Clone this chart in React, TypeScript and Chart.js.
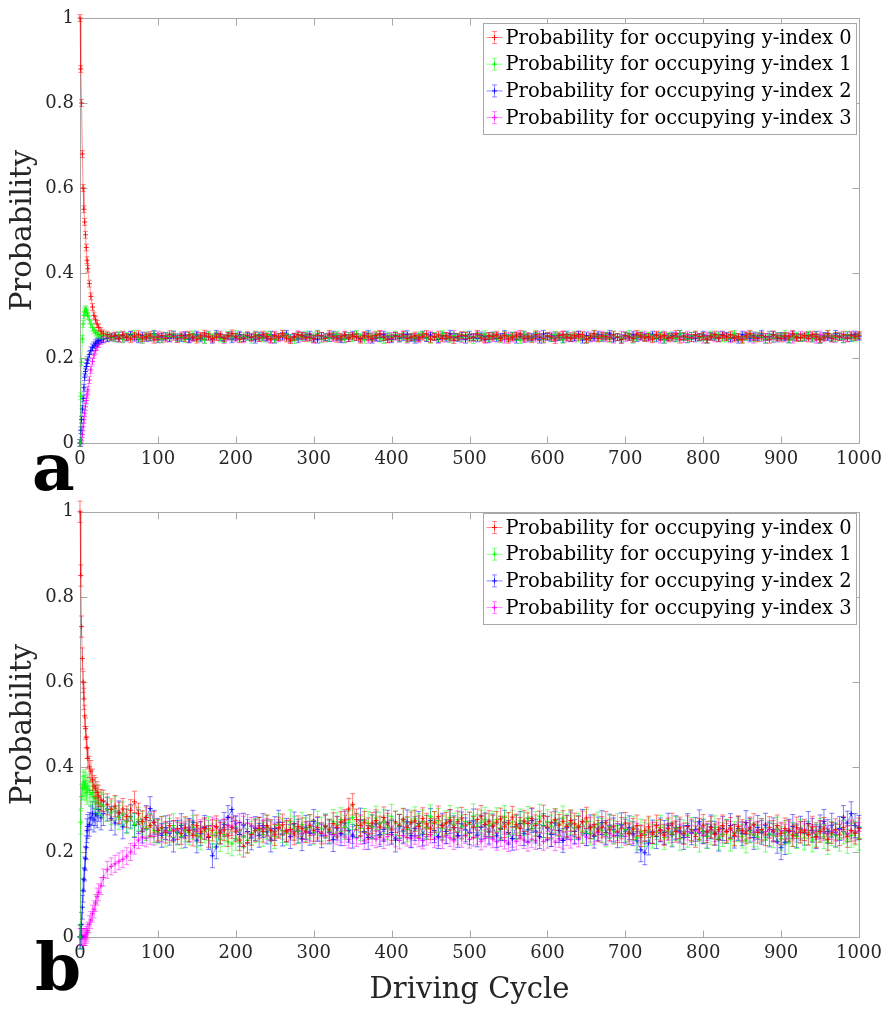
import { useEffect, useRef } from 'react';
import Chart from 'chart.js/auto';

// driving cycles sampled (dense at the start, then every 5 cycles)
const earlyCycles = [0, 1, 2, 3, 4, 5, 6, 7, 8, 9, 10, 12, 14, 16, 18, 20, 22, 24, 27];
const mainCycles = [
  30, 35, 40, 45, 50, 55, 60, 65, 70, 75, 80, 85, 90, 95, 100, 105, 110, 115, 120, 125,
  130, 135, 140, 145, 150, 155, 160, 165, 170, 175, 180, 185, 190, 195, 200, 205, 210, 215, 220, 225,
  230, 235, 240, 245, 250, 255, 260, 265, 270, 275, 280, 285, 290, 295, 300, 305, 310, 315, 320, 325,
  330, 335, 340, 345, 350, 355, 360, 365, 370, 375, 380, 385, 390, 395, 400, 405, 410, 415, 420, 425,
  430, 435, 440, 445, 450, 455, 460, 465, 470, 475, 480, 485, 490, 495, 500, 505, 510, 515, 520, 525,
  530, 535, 540, 545, 550, 555, 560, 565, 570, 575, 580, 585, 590, 595, 600, 605, 610, 615, 620, 625,
  630, 635, 640, 645, 650, 655, 660, 665, 670, 675, 680, 685, 690, 695, 700, 705, 710, 715, 720, 725,
  730, 735, 740, 745, 750, 755, 760, 765, 770, 775, 780, 785, 790, 795, 800, 805, 810, 815, 820, 825,
  830, 835, 840, 845, 850, 855, 860, 865, 870, 875, 880, 885, 890, 895, 900, 905, 910, 915, 920, 925,
  930, 935, 940, 945, 950, 955, 960, 965, 970, 975, 980, 985, 990, 995, 1000,
];

const seriesLabels = [
  'Probability for occupying y-index 0',
  'Probability for occupying y-index 1',
  'Probability for occupying y-index 2',
  'Probability for occupying y-index 3',
];
const seriesRgb = ['255,0,0', '0,255,0', '0,0,255', '255,0,255'];

// probabilities in thousandths
// ---- panel a ----
const a0Early = [1000, 880, 800, 680, 600, 550, 520, 490, 460, 430, 410, 375, 345, 320, 300, 290, 280, 272, 263];
const a1Early = [0, 110, 190, 245, 280, 300, 310, 315, 312, 306, 300, 290, 280, 271, 265, 260, 257, 255, 253];
const a2Early = [0, 30, 55, 80, 105, 130, 155, 168, 180, 188, 195, 208, 218, 225, 230, 235, 238, 241, 244];
const a3Early = [0, 0, 5, 20, 38, 55, 70, 85, 100, 113, 125, 148, 172, 192, 207, 218, 226, 233, 240];

const a0Main = [
  258, 255, 251, 253, 246, 255, 249, 244, 252, 256, 247, 250, 254, 243, 249, 253, 246, 256, 250, 245,
  253, 247, 255, 249, 243, 252, 257, 250, 245, 249, 255, 247, 252, 258, 250, 244, 247, 254, 249, 252,
  247, 255, 250, 244, 253, 249, 257, 246, 242, 250, 255, 252, 247, 249, 245, 254, 252, 246, 257, 250,
  245, 250, 255, 247, 252, 249, 243, 254, 250, 246, 253, 257, 249, 244, 247, 252, 250, 255, 246, 249,
  253, 247, 250, 257, 244, 250, 255, 246, 252, 249, 242, 250, 254, 252, 246, 249, 257, 247, 244, 252,
  250, 255, 246, 253, 243, 249, 252, 257, 246, 250, 244, 255, 249, 246, 252, 250, 242, 253, 255, 249,
  247, 253, 250, 255, 244, 249, 257, 246, 252, 250, 247, 255, 249, 243, 253, 249, 246, 257, 252, 247,
  250, 244, 255, 249, 253, 246, 250, 257, 243, 252, 249, 247, 255, 250, 252, 244, 249, 255, 246, 253,
  249, 255, 246, 250, 243, 252, 257, 249, 246, 253, 250, 243, 255, 249, 246, 252, 250, 257, 247, 249,
  253, 246, 255, 250, 244, 249, 257, 246, 252, 249, 255, 247, 253, 250, 254,
];
const a1Main = [
  253, 252, 249, 246, 255, 244, 252, 249, 257, 247, 243, 253, 249, 255, 246, 244, 252, 250, 256, 247,
  249, 244, 252, 256, 247, 250, 242, 255, 249, 253, 246, 244, 255, 250, 257, 247, 252, 249, 243, 255,
  250, 246, 255, 253, 244, 249, 257, 250, 247, 242, 252, 249, 255, 246, 253, 257, 244, 250, 247, 252,
  255, 249, 244, 252, 247, 257, 250, 243, 253, 249, 255, 246, 242, 253, 249, 255, 247, 252, 244, 250,
  247, 253, 255, 249, 243, 252, 246, 257, 250, 244, 253, 249, 247, 255, 250, 242, 252, 249, 256, 247,
  252, 250, 244, 255, 247, 253, 249, 242, 255, 250, 246, 257, 249, 244, 252, 247, 255, 250, 243, 253,
  249, 255, 246, 252, 243, 250, 257, 247, 249, 253, 244, 255, 250, 246, 252, 257, 243, 249, 255, 247,
  253, 247, 250, 255, 243, 252, 249, 246, 257, 250, 244, 252, 255, 247, 249, 243, 255, 250, 253, 246,
  246, 252, 257, 249, 243, 250, 255, 247, 253, 249, 244, 255, 246, 252, 250, 257, 243, 249, 253, 247,
  249, 255, 246, 253, 243, 250, 257, 249, 247, 252, 244, 255, 249, 246, 253,
];
const a2Main = [
  245, 247, 249, 251, 246, 253, 248, 255, 250, 244, 253, 247, 249, 257, 244, 250, 252, 246, 255, 249,
  247, 253, 244, 249, 255, 246, 252, 250, 243, 257, 249, 246, 253, 244, 250, 255, 247, 252, 249, 243,
  253, 249, 246, 255, 243, 250, 252, 257, 247, 249, 244, 253, 250, 255, 246, 243, 252, 249, 247, 255,
  249, 244, 253, 247, 255, 250, 246, 252, 257, 243, 249, 247, 255, 250, 244, 253, 246, 249, 256, 247,
  243, 249, 255, 247, 252, 250, 244, 253, 246, 257, 249, 247, 252, 243, 255, 249, 246, 253, 250, 244,
  253, 246, 249, 257, 247, 252, 243, 250, 255, 246, 249, 252, 243, 257, 250, 247, 253, 249, 244, 255,
  247, 249, 255, 243, 253, 246, 250, 255, 247, 252, 257, 246, 249, 243, 253, 250, 255, 247, 252, 249,
  250, 255, 246, 252, 243, 249, 253, 247, 257, 250, 244, 252, 246, 249, 255, 243, 252, 250, 247, 255,
  252, 247, 249, 243, 255, 250, 246, 253, 249, 257, 243, 250, 255, 246, 252, 249, 244, 255, 250, 247,
  249, 253, 246, 255, 243, 252, 249, 246, 257, 250, 244, 253, 247, 255, 250,
];
const a3Main = [
  243, 246, 248, 247, 252, 245, 250, 254, 247, 249, 243, 252, 247, 250, 255, 244, 249, 247, 253, 245,
  250, 254, 244, 247, 252, 249, 243, 255, 247, 252, 250, 242, 249, 254, 246, 252, 244, 250, 247, 255,
  247, 252, 250, 243, 255, 246, 249, 253, 244, 250, 255, 247, 252, 249, 243, 257, 246, 249, 253, 247,
  253, 247, 244, 252, 250, 255, 246, 249, 243, 253, 247, 255, 249, 244, 252, 250, 246, 255, 243, 249,
  250, 244, 253, 247, 255, 249, 243, 250, 252, 246, 257, 249, 244, 253, 250, 247, 255, 249, 243, 252,
  247, 252, 249, 243, 253, 246, 255, 250, 244, 252, 249, 246, 255, 243, 250, 253, 247, 249, 255, 246,
  252, 246, 255, 249, 243, 253, 247, 250, 255, 246, 252, 243, 249, 255, 247, 250, 244, 253, 249, 255,
  246, 250, 253, 243, 255, 249, 246, 252, 250, 244, 255, 247, 252, 249, 243, 253, 250, 246, 255, 249,
  250, 244, 253, 249, 246, 255, 250, 243, 252, 247, 249, 255, 244, 252, 250, 246, 253, 243, 249, 255,
  247, 252, 250, 243, 255, 246, 252, 249, 244, 253, 249, 246, 255, 250, 252,
];
const errA = [0.008, 0.008, 0.008, 0.008];

// ---- panel b ----
const b0Early = [1000, 850, 730, 655, 600, 560, 520, 490, 470, 445, 420, 400, 390, 370, 355, 350, 340, 332, 322];
const b1Early = [0, 270, 330, 350, 360, 365, 352, 360, 348, 340, 355, 345, 335, 340, 328, 320, 330, 315, 312];
const b2Early = [0, 0, 30, 70, 110, 135, 160, 185, 210, 250, 260, 265, 280, 290, 275, 290, 285, 300, 280];
const b3Early = [0, 0, 0, 0, 0, 0, 0, 0, 5, 10, 15, 30, 40, 55, 65, 80, 95, 105, 120];

const b0Main = [
  320, 312, 300, 308, 292, 301, 283, 298, 318, 290, 272, 281, 262, 270, 251, 258, 246, 262, 249, 255,
  243, 258, 250, 239, 262, 247, 255, 236, 251, 260, 244, 252, 238, 257, 249, 228, 213, 222, 241, 250,
  256, 248, 262, 251, 240, 257, 264, 249, 253, 242, 260, 255, 247, 263, 250, 258, 244, 261, 252, 267,
  258, 270, 275, 301, 312, 276, 262, 270, 255, 268, 274, 259, 281, 266, 252, 271, 263, 277, 258, 269,
  273, 260, 279, 266, 254, 270, 283, 262, 268, 275, 257, 271, 280, 263, 269, 258, 276, 284, 265, 272,
  261, 270, 278, 259, 268, 282, 264, 256, 273, 267, 279, 262, 271, 285, 258, 269, 276, 263, 272, 260,
  274, 266, 259, 271, 280, 257, 264, 249, 258, 270, 252, 261, 247, 256, 268, 243, 254, 262, 238, 250,
  259, 245, 262, 251, 240, 255, 266, 248, 257, 243, 260, 252, 236, 254, 263, 247, 258, 241, 253, 262,
  248, 256, 239, 260, 251, 244, 257, 265, 246, 253, 240, 258, 249, 262, 243, 255, 250, 238, 257, 246,
  252, 241, 259, 235, 248, 256, 229, 245, 253, 240, 258, 236, 250, 244, 255,
];
const b1Main = [
  308, 300, 292, 303, 281, 290, 272, 282, 264, 277, 268, 255, 262, 250, 247, 256, 240, 251, 262, 244,
  236, 252, 245, 258, 240, 233, 249, 255, 238, 246, 229, 241, 224, 219, 232, 221, 238, 227, 244, 250,
  253, 241, 258, 247, 236, 262, 250, 244, 271, 256, 248, 265, 252, 259, 246, 268, 254, 261, 249, 272,
  264, 276, 258, 270, 281, 263, 255, 274, 267, 259, 280, 266, 272, 257, 284, 268, 261, 275, 253, 270,
  278, 262, 271, 258, 283, 267, 274, 256, 269, 281, 263, 276, 259, 272, 265, 285, 260, 270, 277, 262,
  268, 276, 257, 281, 264, 270, 258, 273, 266, 279, 255, 267, 284, 262, 271, 259, 274, 265, 280, 261,
  270, 257, 263, 249, 272, 244, 258, 266, 251, 240, 259, 247, 262, 238, 253, 245, 256, 233, 249, 241,
  252, 237, 246, 258, 234, 249, 242, 255, 231, 247, 239, 253, 244, 228, 250, 236, 245, 257, 233, 241,
  248, 230, 244, 252, 237, 226, 249, 240, 235, 251, 228, 243, 238, 254, 231, 246, 224, 241, 236, 249,
  233, 245, 228, 240, 251, 236, 222, 243, 238, 230, 247, 225, 239, 244, 232,
];
const b2Main = [
  290, 301, 279, 268, 292, 259, 273, 284, 262, 271, 249, 281, 302, 270, 251, 239, 257, 244, 228, 246,
  262, 238, 251, 270, 226, 243, 258, 234, 191, 212, 247, 265, 281, 300, 256, 241, 263, 248, 233, 255,
  239, 262, 247, 228, 255, 270, 242, 251, 236, 266, 249, 231, 258, 244, 272, 253, 238, 261, 247, 229,
  256, 243, 268, 251, 237, 262, 275, 248, 234, 259, 266, 241, 253, 270, 246, 228, 260, 249, 271, 238,
  255, 267, 242, 258, 274, 250, 236, 263, 248, 271, 257, 239, 266, 252, 245, 273, 240, 258, 264, 247,
  261, 238, 255, 270, 246, 232, 259, 267, 243, 252, 274, 249, 236, 262, 256, 241, 268, 250, 227, 258,
  266, 248, 257, 272, 243, 259, 237, 254, 269, 246, 261, 252, 238, 264, 249, 257, 243, 226, 205, 198,
  221, 247, 236, 252, 246, 263, 240, 257, 249, 234, 262, 245, 253, 271, 248, 237, 259, 244, 230, 255,
  248, 262, 237, 255, 243, 269, 251, 234, 258, 246, 263, 240, 252, 225, 210, 222, 249, 260, 238, 256,
  244, 267, 251, 236, 259, 272, 248, 263, 240, 255, 281, 268, 290, 262, 258,
];
const b3Main = [
  140, 158, 166, 172, 178, 183, 190, 200, 215, 228, 235, 232, 238, 236, 242, 244, 250, 247, 253, 249,
  255, 251, 258, 253, 249, 256, 260, 254, 262, 258, 251, 257, 263, 259, 266, 270, 264, 268, 261, 257,
  262, 255, 259, 252, 248, 256, 250, 245, 253, 247, 251, 243, 249, 246, 240, 248, 244, 239, 246, 241,
  237, 243, 235, 229, 240, 233, 238, 226, 242, 235, 230, 238, 228, 236, 241, 232, 227, 239, 234, 231,
  238, 232, 227, 236, 241, 230, 235, 228, 239, 233, 226, 237, 231, 240, 229, 234, 238, 225, 232, 236,
  230, 224, 233, 227, 221, 231, 225, 235, 228, 222, 230, 226, 236, 224, 229, 233, 223, 231, 227, 235,
  229, 237, 232, 240, 235, 243, 238, 246, 241, 236, 244, 239, 247, 242, 236, 245, 240, 248, 243, 239,
  246, 241, 249, 244, 238, 247, 242, 251, 245, 240, 248, 243, 250, 246, 239, 247, 252, 244, 249, 241,
  247, 252, 245, 250, 243, 249, 254, 246, 251, 244, 248, 253, 247, 242, 250, 245, 251, 248, 243, 252,
  246, 251, 244, 249, 254, 247, 242, 250, 245, 253, 248, 243, 251, 246, 249,
];
const errB = [0.025, 0.028, 0.028, 0.02];

const yTicks = [0, 0.2, 0.4, 0.6, 0.8, 1];

const FONT = '"DejaVu Serif", "Liberation Serif", serif';
const INK = '#262626';
const FRAME = '#a8a8a8';

// inward ticks on all four sides + box
const framePlugin = {
  id: 'frameBox',
  beforeDatasetsDraw(chart: any) {
    const { ctx, chartArea: a, scales } = chart;
    const l = Math.round(a.left) + 0.5;
    const r = Math.round(a.right) + 0.5;
    const t = Math.round(a.top) + 0.5;
    const b = Math.round(a.bottom) + 0.5;
    ctx.save();
    ctx.strokeStyle = FRAME;
    ctx.lineWidth = 1;
    ctx.beginPath();
    ctx.rect(l, t, r - l, b - t);
    scales.x.ticks.forEach((tk: any) => {
      const px = Math.round(scales.x.getPixelForValue(tk.value)) + 0.5;
      ctx.moveTo(px, b); ctx.lineTo(px, b - 7);
      ctx.moveTo(px, t); ctx.lineTo(px, t + 7);
    });
    scales.y.ticks.forEach((tk: any) => {
      const py = Math.round(scales.y.getPixelForValue(tk.value)) + 0.5;
      ctx.moveTo(l, py); ctx.lineTo(l + 7, py);
      ctx.moveTo(r, py); ctx.lineTo(r - 7, py);
    });
    ctx.stroke();
    ctx.restore();
  },
};

const errorBarPlugin = {
  id: 'errorBars',
  afterDatasetDraw(chart: any, args: any) {
    const ds = chart.data.datasets[args.index];
    const { ctx, scales } = chart;
    const x = scales.x;
    const y = scales.y;
    ctx.save();
    ctx.strokeStyle = `rgba(${ds.rgb},0.5)`;
    ctx.lineWidth = 1;
    ctx.beginPath();
    ds.data.forEach((pt: any) => {
      const px = x.getPixelForValue(pt.x);
      const top = y.getPixelForValue(pt.y + ds.err);
      const bot = y.getPixelForValue(pt.y - ds.err);
      ctx.moveTo(px, top); ctx.lineTo(px, bot);
      ctx.moveTo(px - 2.5, top); ctx.lineTo(px + 2.5, top);
      ctx.moveTo(px - 2.5, bot); ctx.lineTo(px + 2.5, bot);
    });
    ctx.stroke();
    ctx.restore();
  },
};

const legendPlugin = {
  id: 'boxLegend',
  afterDraw(chart: any, _args: any, opts: any) {
    const { ctx, chartArea: a } = chart;
    const dy = opts && typeof opts.dy === 'number' ? opts.dy : 5;
    const left = Math.round(a.right) - 376 + 0.5;
    const top = Math.round(a.top) + dy + 0.5;
    const w = 373;
    const h = 111;
    ctx.save();
    ctx.fillStyle = '#ffffff';
    ctx.fillRect(left, top, w, h);
    ctx.strokeStyle = FRAME;
    ctx.lineWidth = 1;
    ctx.strokeRect(left, top, w, h);
    ctx.font = `19.5px ${FONT}`;
    ctx.textBaseline = 'alphabetic';
    chart.data.datasets.forEach((ds: any, i: number) => {
      const cy = top + 14 + i * 26.7;
      const cx = left + 11;
      ctx.strokeStyle = `rgba(${ds.rgb},0.45)`;
      ctx.beginPath();
      ctx.moveTo(left + 3, cy); ctx.lineTo(left + 19, cy);
      ctx.moveTo(cx, cy - 6); ctx.lineTo(cx, cy + 6);
      ctx.moveTo(cx - 2.5, cy - 6); ctx.lineTo(cx + 2.5, cy - 6);
      ctx.moveTo(cx - 2.5, cy + 6); ctx.lineTo(cx + 2.5, cy + 6);
      ctx.stroke();
      ctx.strokeStyle = `rgba(${ds.rgb},0.85)`;
      ctx.beginPath();
      ctx.moveTo(cx - 2.5, cy); ctx.lineTo(cx + 2.5, cy);
      ctx.moveTo(cx, cy - 2.5); ctx.lineTo(cx, cy + 2.5);
      ctx.stroke();
      ctx.fillStyle = '#000000';
      ctx.fillText(ds.label, left + 22, top + 20 + i * 26.7);
    });
    ctx.restore();
  },
};

const tagPlugin = {
  id: 'panelTag',
  afterDraw(chart: any, _args: any, opts: any) {
    if (!opts || !opts.text) return;
    const { ctx } = chart;
    ctx.save();
    ctx.font = `bold 66px ${FONT}`;
    ctx.fillStyle = '#000000';
    ctx.textBaseline = 'alphabetic';
    ctx.fillText(opts.text, opts.x, opts.y);
    ctx.restore();
  },
};

interface PanelProps {
  early: number[][];
  main: number[][];
  errors: number[];
  tag: string;
  tagX: number;
  tagY: number;
  top: number;
  height: number;
  padTop: number;
  padBottom: number;
  xHeight: number;
  legendDy: number;
  xTitle?: string;
}

function Panel({ early, main, errors, tag, tagX, tagY, top, height, padTop, padBottom, xHeight, legendDy, xTitle }: PanelProps) {
  const canvasRef = useRef<HTMLCanvasElement>(null);

  useEffect(() => {
    if (!canvasRef.current) return;
    const cycles = earlyCycles.concat(mainCycles);

    const datasets = early.map((e, i) => {
      const vals = e.concat(main[i]);
      return {
        label: seriesLabels[i],
        data: cycles.map((c, j) => ({ x: c, y: vals[j] / 1000 })),
        borderColor: `rgba(${seriesRgb[i]},0.45)`,
        borderWidth: 1,
        pointStyle: 'cross',
        pointRadius: 2.5,
        pointHoverRadius: 2.5,
        pointBorderColor: `rgba(${seriesRgb[i]},0.85)`,
        pointBackgroundColor: `rgba(${seriesRgb[i]},0.85)`,
        pointBorderWidth: 1,
        tension: 0,
        fill: false,
        clip: 6,
        err: errors[i],
        rgb: seriesRgb[i],
      };
    });

    const chart = new Chart(canvasRef.current, {
      type: 'line',
      data: { datasets } as any,
      options: {
        animation: false,
        responsive: true,
        maintainAspectRatio: false,
        events: [],
        layout: { padding: { top: padTop, right: 31, bottom: padBottom, left: 0 } },
        plugins: {
          legend: { display: false },
          tooltip: { enabled: false },
          panelTag: { text: tag, x: tagX, y: tagY },
          boxLegend: { dy: legendDy },
        } as any,
        scales: {
          x: {
            type: 'linear',
            min: 0,
            max: 1000,
            grid: { display: false, drawTicks: false },
            border: { display: false },
            ticks: {
              stepSize: 100,
              autoSkip: false,
              maxRotation: 0,
              padding: 6,
              color: INK,
              font: { family: FONT, size: 18 },
              callback: (v: any) => String(v),
            },
            title: {
              display: !!xTitle,
              text: xTitle || '',
              color: INK,
              font: { family: FONT, size: 29 },
              padding: { top: 0, bottom: 12 },
            },
            afterFit: (s: any) => { s.height = xHeight; },
          },
          y: {
            type: 'linear',
            min: 0,
            max: 1,
            grid: { display: false, drawTicks: false },
            border: { display: false },
            afterBuildTicks: (s: any) => { s.ticks = yTicks.map((v) => ({ value: v })); },
            ticks: {
              padding: 6,
              color: INK,
              font: { family: FONT, size: 18 },
              callback: (v: any) => String(Math.round(Number(v) * 10) / 10),
            },
            title: {
              display: true,
              text: 'Probability',
              color: INK,
              font: { family: FONT, size: 29 },
              padding: { top: 6, bottom: 0 },
            },
            afterFit: (s: any) => { s.width = 80; },
          },
        },
      },
      plugins: [framePlugin, errorBarPlugin, legendPlugin, tagPlugin],
    } as any);

    return () => {
      chart.destroy();
    };
  }, []);

  return (
    <div style={{ position: 'absolute', left: 0, top, width: 890, height }}>
      <canvas ref={canvasRef} />
    </div>
  );
}

export default function App() {
  return (
    <div style={{ position: 'absolute', left: 0, top: 0, width: 890, height: 1020, background: '#ffffff' }}>
      <Panel
        early={[a0Early, a1Early, a2Early, a3Early]}
        main={[a0Main, a1Main, a2Main, a3Main]}
        errors={errA}
        tag="a"
        tagX={32}
        tagY={490}
        top={0}
        height={495}
        padTop={18}
        padBottom={12}
        xHeight={40}
        legendDy={5}
      />
      <Panel
        early={[b0Early, b1Early, b2Early, b3Early]}
        main={[b0Main, b1Main, b2Main, b3Main]}
        errors={errB}
        tag="b"
        tagX={35}
        tagY={495}
        top={495}
        height={525}
        padTop={16}
        padBottom={0}
        xHeight={83}
        legendDy={1}
        xTitle="Driving Cycle"
      />
    </div>
  );
}
